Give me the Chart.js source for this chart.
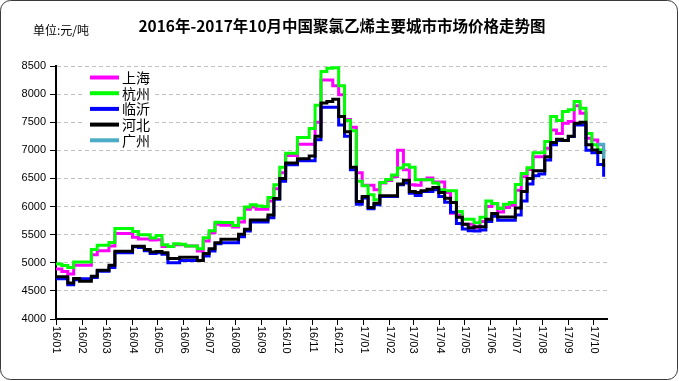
<!DOCTYPE html>
<html>
<head>
<meta charset="utf-8">
<script src="https://cdn.jsdelivr.net/npm/chart.js@4.4.0/dist/chart.umd.min.js"></script>
<style>
  html, body { margin: 0; padding: 0; background: #fff; }
  #wrap { width: 679px; height: 381px; }
</style>
</head>
<body>
<div id="wrap"><canvas id="priceChart" width="679" height="381"></canvas></div>
<script>
// =============================
// DATA (weekly prices, 元/吨, from 2016-01-01)
// =============================
const monthLabels = ['16/01', '16/02', '16/03', '16/04', '16/05', '16/06', '16/07', '16/08',
  '16/09', '16/10', '16/11', '16/12', '17/01', '17/02', '17/03', '17/04', '17/05', '17/06',
  '17/07', '17/08', '17/09', '17/10'];

const yTicks = [4000, 4500, 5000, 5500, 6000, 6500, 7000, 7500, 8000, 8500];

const cityNames = ['上海', '杭州', '临沂', '河北', '广州'];

const shanghai = [4890, 4845, 4800, 4955, 4955, 4955, 5145, 5215, 5215, 5300,
  5520, 5520, 5520, 5455, 5425, 5425, 5405, 5410, 5290, 5290,
  5320, 5320, 5300, 5300, 5208, 5387, 5535, 5684, 5666, 5666,
  5637, 5726, 5952, 5994, 5952, 5952, 6101, 6315, 6600, 6910,
  6910, 7110, 7110, 7110, 7500, 8250, 8250, 8150, 7990, 7550,
  7410, 6600, 6380, 6380, 6300, 6420, 6464, 6536, 7000, 6655,
  6387, 6380, 6476, 6506, 6435, 6435, 6250, 5881, 5851, 5685,
  5685, 5625, 5733, 6000, 6048, 5905, 5982, 6024, 6292, 6530,
  6660, 6887, 6887, 7036, 7363, 7300, 7482, 7512, 7792, 7661,
  7214, 7185, 7100, 6950];

const hangzhou = [4980, 4950, 4915, 5015, 5015, 5015, 5235, 5310, 5310, 5360,
  5610, 5610, 5610, 5555, 5500, 5500, 5440, 5485, 5320, 5290,
  5340, 5330, 5300, 5300, 5250, 5445, 5570, 5720, 5715, 5715,
  5665, 5790, 5990, 6030, 6010, 6000, 6160, 6390, 6700, 6950,
  6950, 7230, 7230, 7390, 7800, 8400, 8460, 8470, 8150, 7530,
  7350, 6450, 6370, 6210, 6120, 6430, 6480, 6560, 6685, 6744,
  6700, 6476, 6476, 6476, 6417, 6298, 6280, 6280, 5911, 5774,
  5774, 5714, 5810, 6100, 6054, 5964, 6042, 6071, 6393, 6589,
  6690, 6958, 6958, 7155, 7600, 7530, 7690, 7720, 7869, 7750,
  7300, 7100, 7006, 6900];

const linyi = [4715, 4715, 4610, 4700, 4715, 4715, 4740, 4850, 4850, 4915,
  5180, 5180, 5180, 5285, 5270, 5215, 5165, 5180, 5150, 5000,
  5000, 5042, 5042, 5042, 5042, 5119, 5208, 5339, 5357, 5357,
  5357, 5464, 5565, 5726, 5726, 5726, 5803, 6130, 6450, 6744,
  6744, 6816, 6816, 6816, 7190, 7768, 7768, 7768, 7450, 7250,
  6655, 6042, 6150, 5960, 6030, 6180, 6180, 6180, 6387, 6420,
  6238, 6197, 6268, 6268, 6300, 6180, 6077, 5900, 5700, 5601,
  5570, 5566, 5583, 5733, 5827, 5756, 5756, 5756, 5850, 6100,
  6400, 6550, 6577, 6827, 7100, 7173, 7173, 7244, 7452, 7452,
  7000, 6958, 6750, 6530];

const hebei = [4750, 4750, 4640, 4720, 4670, 4670, 4760, 4865, 4865, 4955,
  5205, 5205, 5205, 5295, 5295, 5235, 5190, 5200, 5180, 5077,
  5077, 5100, 5100, 5100, 5042, 5167, 5250, 5357, 5417, 5417,
  5417, 5506, 5595, 5760, 5760, 5760, 5850, 6145, 6500, 6774,
  6774, 6851, 6851, 6900, 7250, 7840, 7870, 7910, 7600, 7330,
  6700, 6090, 6180, 5984, 6060, 6190, 6190, 6190, 6400, 6470,
  6268, 6250, 6280, 6310, 6340, 6250, 6149, 6072, 5810, 5685,
  5625, 5643, 5643, 5774, 5875, 5815, 5815, 5815, 5976, 6270,
  6500, 6637, 6637, 6887, 7140, 7196, 7173, 7250, 7482, 7500,
  7100, 7006, 6960, 6708];

// 广州 only appears in the last two weeks
const guangzhouStartWeek = 92;
const guangzhou = [7110, 6850];

const cityColors = ['#ff00ff', '#00ff00', '#0000ff', '#000000', '#4bacc6'];

// =============================
// HELPERS
// =============================
const DAY = 24 * 3600 * 1000;
const origin = new Date(2016, 0, 1);

function labelToDay(label) {
  const [yy, mm] = label.split('/').map(Number);
  return Math.round((new Date(2000 + yy, mm - 1, 1) - origin) / DAY);
}

const monthDays = monthLabels.map(labelToDay);

function weekPoints(values, startWeek) {
  return values.map((v, i) => ({ x: (startWeek + i) * 7, y: v }));
}

const seriesValues = [shanghai, hangzhou, linyi, hebei, guangzhou];
const seriesStart = [0, 0, 0, 0, guangzhouStartWeek];

// =============================
// PLUGINS
// =============================
const frame = {
  id: 'frame',
  afterDraw(chart) {
    const ctx = chart.ctx;
    ctx.save();

    // outer rounded border
    ctx.strokeStyle = '#3a3a3a';
    ctx.lineWidth = 1;
    ctx.beginPath();
    ctx.roundRect(0.5, 0.5, 677, 379, 10);
    ctx.stroke();

    // title + unit
    ctx.fillStyle = '#000';
    ctx.textBaseline = 'middle';
    ctx.textAlign = 'center';
    ctx.font = 'bold 15.5px "Noto Sans CJK SC"';
    ctx.fillText('2016年-2017年10月中国聚氯乙烯主要城市市场价格走势图', 342, 26);
    ctx.textAlign = 'left';
    ctx.font = '12px "Noto Sans CJK SC"';
    ctx.fillText('单位:元/吨', 33, 30);

    // x labels rotated clockwise
    const xs = chart.scales.x;
    ctx.font = '11px "Liberation Sans"';
    monthLabels.forEach((lab, i) => {
      const px = xs.getPixelForValue(monthDays[i]);
      ctx.save();
      ctx.translate(px, 326);
      ctx.rotate(Math.PI / 2);
      ctx.textAlign = 'left';
      ctx.textBaseline = 'middle';
      ctx.fillText(lab, 0, 0);
      ctx.restore();
    });

    // legend box
    ctx.fillStyle = '#fff';
    ctx.fillRect(82, 70, 73, 77);
    cityNames.forEach((name, i) => {
      const y = 77.5 + i * 15.7;
      ctx.strokeStyle = cityColors[i];
      ctx.lineWidth = 4;
      ctx.beginPath();
      ctx.moveTo(90, y);
      ctx.lineTo(119, y);
      ctx.stroke();
      ctx.fillStyle = '#000';
      ctx.font = '14px "Noto Sans CJK SC"';
      ctx.textAlign = 'left';
      ctx.textBaseline = 'middle';
      ctx.fillText(name, 122, y);
    });

    ctx.restore();
  }
};

// =============================
// CHART
// =============================
const datasets = cityNames.map((name, i) => ({
  label: name,
  data: weekPoints(seriesValues[i], seriesStart[i]),
  borderColor: cityColors[i],
  backgroundColor: cityColors[i],
  borderWidth: 3,
  pointRadius: 0,
  stepped: true,
  fill: false,
  order: 5 - i
}));

new Chart(document.getElementById('priceChart'), {
  type: 'line',
  data: { datasets },
  options: {
    responsive: false,
    devicePixelRatio: 1,
    animation: false,
    layout: { padding: { left: 0, top: 66, right: 72, bottom: 0 } },
    plugins: { legend: { display: false }, tooltip: { enabled: false } },
    scales: {
      x: {
        type: 'linear',
        min: 0,
        max: 655,
        afterBuildTicks: s => { s.ticks = monthDays.map(v => ({ value: v })); },
        afterFit: s => { s.height = 62; },
        ticks: { display: false },
        grid: { drawOnChartArea: false, drawTicks: true, tickLength: 6, tickColor: '#000', tickWidth: 1 },
        border: { display: true, color: '#000', width: 2 }
      },
      y: {
        min: 4000,
        max: 8500,
        afterBuildTicks: s => { s.ticks = yTicks.map(v => ({ value: v })); },
        afterFit: s => { s.width = 56; },
        ticks: {
          color: '#000',
          font: { size: 11, family: 'Liberation Sans' },
          padding: 4,
          callback: v => String(v)
        },
        grid: { color: '#c0c0c0', lineWidth: 1, tickLength: 6, tickColor: '#000', tickWidth: 1 },
        border: { display: true, color: '#000', width: 2, dash: [4, 3] }
      }
    }
  },
  plugins: [frame]
});
</script>
</body>
</html>
